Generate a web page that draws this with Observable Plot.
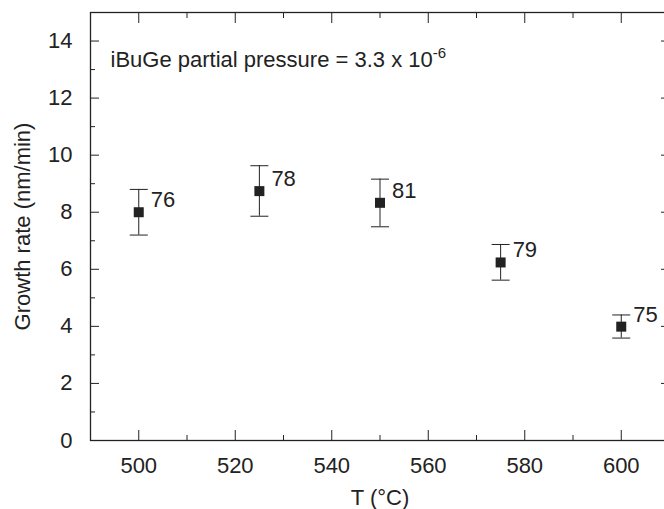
<!DOCTYPE html>
<html><head><meta charset="utf-8">
<script src="https://cdn.jsdelivr.net/npm/d3@7"></script>
<script src="https://cdn.jsdelivr.net/npm/@observablehq/plot@0.6"></script>
<style>
html,body{margin:0;padding:0;background:#fff;overflow:hidden;}
#chart svg{max-width:none !important;}
</style></head><body><div id="chart"></div>
<script>
const temperatures = [500, 525, 550, 575, 600];
const growthRate = [8.0, 8.74, 8.33, 6.24, 3.99];
const errLow = [7.2, 7.86, 7.49, 5.62, 3.59];
const errHigh = [8.8, 9.63, 9.16, 6.87, 4.40];
const pointLabels = ["76", "78", "81", "79", "75"];
const xMajorTicks = [500, 520, 540, 560, 580, 600];
const xMinorTicks = [510, 530, 550, 570, 590];
const yMajorTicks = [0, 2, 4, 6, 8, 10, 12, 14];
const yMinorTicks = [1, 3, 5, 7, 9, 11, 13];
const annotationText = "iBuGe partial pressure = 3.3 x 10";
const annotationSup = "-6";

const data = temperatures.map((T, i) => ({T, g: growthRate[i], lo: errLow[i], hi: errHigh[i], label: pointLabels[i]}));

const ink = "#222";
const font = "Liberation Sans, Arial, sans-serif";
const capSymbol = {draw(ctx) { ctx.moveTo(-9, 0); ctx.lineTo(9, 0); }};
const squareSymbol = {draw(ctx) { ctx.rect(-5, -5, 10, 10); }};
const blank = () => "";

const chart = Plot.plot({
  width: 672, height: 509,
  marginLeft: 90, marginRight: 3, marginTop: 12, marginBottom: 69,
  style: {fontFamily: font, fontSize: "22px", color: ink, background: "#fff"},
  x: {domain: [490, 610]},
  y: {domain: [0, 15]},
  marks: [
    Plot.axisX({anchor: "bottom", ticks: xMajorTicks, tickSize: -10, tickFormat: blank, label: null, stroke: ink}),
    Plot.axisX({anchor: "bottom", ticks: xMinorTicks, tickSize: -5, tickFormat: blank, label: null, stroke: ink}),
    Plot.axisX({anchor: "top", ticks: xMajorTicks, tickSize: -10, tickFormat: blank, label: null, stroke: ink}),
    Plot.axisX({anchor: "top", ticks: xMinorTicks, tickSize: -5, tickFormat: blank, label: null, stroke: ink}),
    Plot.axisY({anchor: "left", ticks: yMajorTicks, tickSize: -9, tickFormat: blank, label: null, stroke: ink}),
    Plot.axisY({anchor: "left", ticks: yMinorTicks, tickSize: -5, tickFormat: blank, label: null, stroke: ink}),
    Plot.axisY({anchor: "right", ticks: yMajorTicks, tickSize: -9, tickFormat: blank, label: null, stroke: ink}),
    Plot.axisY({anchor: "right", ticks: yMinorTicks, tickSize: -5, tickFormat: blank, label: null, stroke: ink}),
    Plot.axisX({anchor: "bottom", ticks: xMajorTicks, tickSize: 0, tickPadding: 17, fill: ink,
      label: "T (°C)", labelAnchor: "center", labelOffset: 64, labelArrow: "none"}),
    Plot.axisY({anchor: "left", ticks: yMajorTicks, tickSize: 0, tickPadding: 18, fill: ink,
      label: "Growth rate (nm/min)", labelAnchor: "center", labelOffset: 76, labelArrow: "none"}),
    Plot.frame({stroke: ink, strokeWidth: 1.3}),
    Plot.ruleX(data, {x: "T", y1: "lo", y2: "hi", stroke: ink, strokeWidth: 1}),
    Plot.dot(data, {x: "T", y: "lo", symbol: capSymbol, stroke: ink, fill: "none", strokeWidth: 1}),
    Plot.dot(data, {x: "T", y: "hi", symbol: capSymbol, stroke: ink, fill: "none", strokeWidth: 1}),
    Plot.dot(data, {x: "T", y: "g", symbol: squareSymbol, fill: ink, stroke: "none"}),
    Plot.text(data, {x: "T", y: "g", text: "label", dx: 12, dy: -12, textAnchor: "start", lineAnchor: "middle", fill: ink, fontSize: 22}),
    Plot.text([annotationText], {frameAnchor: "top-left", dx: 20, dy: 54, textAnchor: "start", lineAnchor: "bottom", fill: ink, fontSize: 22})
  ]
});

document.getElementById("chart").appendChild(chart);

chart.querySelectorAll("text").forEach(t => {
  if (t.textContent === annotationText) {
    const ts = document.createElementNS("http://www.w3.org/2000/svg", "tspan");
    ts.setAttribute("dy", "-0.55em");
    ts.setAttribute("font-size", "15");
    ts.textContent = annotationSup;
    t.appendChild(ts);
  }
});
</script>
</body></html>
